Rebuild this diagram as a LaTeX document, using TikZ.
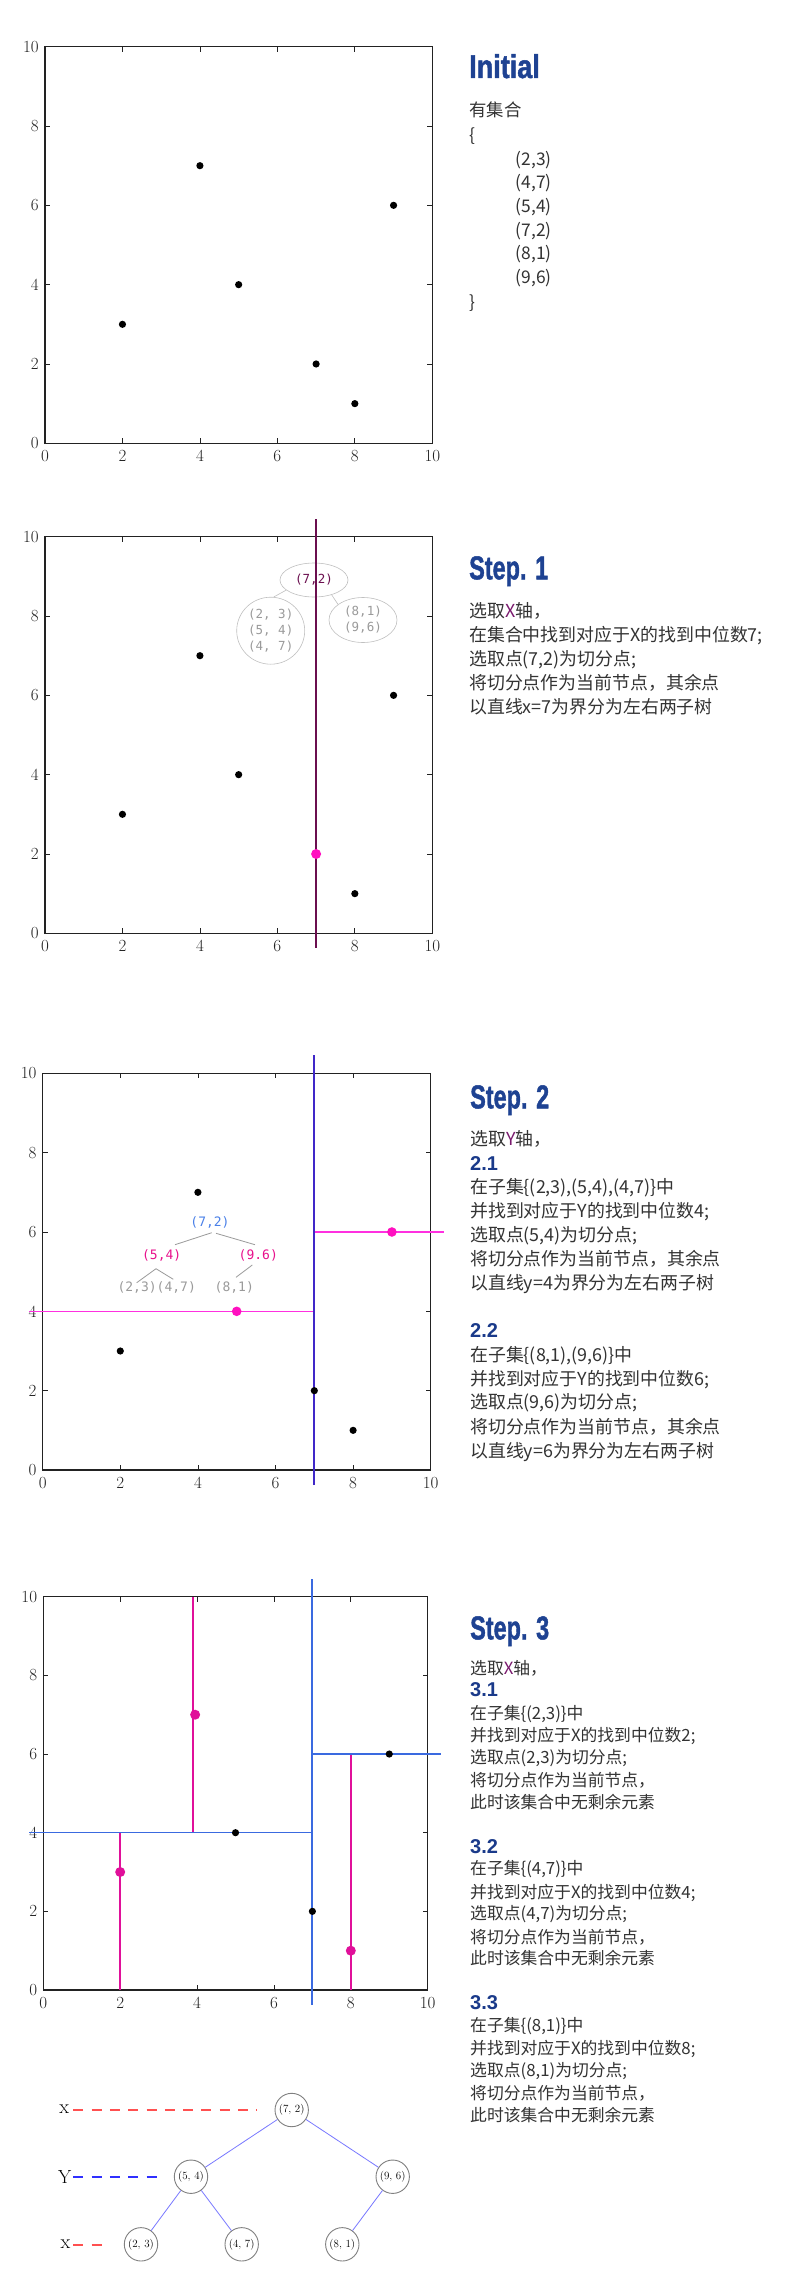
\documentclass[tikz,border=0pt]{standalone}
\usepackage{fontspec}
\usetikzlibrary{shapes.geometric}
\newfontfamily\cjk{Noto Sans CJK SC}
\newfontfamily\monof{DejaVu Sans Mono}
\newfontfamily\heavyf[FakeBold=1.5]{Liberation Sans Bold}
\newfontfamily\subf{Liberation Sans Bold}
\definecolor{titleblue}{HTML}{1E4292}
\definecolor{subblue}{HTML}{1A3A8A}
\definecolor{bodygray}{HTML}{333333}
\definecolor{axpurple}{HTML}{7A1A6E}
\definecolor{cutpurple}{HTML}{6B0F4F}
\definecolor{hotpink}{HTML}{FF10C0}
\definecolor{magline}{HTML}{FF30E0}
\definecolor{vblue}{HTML}{4028C8}
\definecolor{pblue}{HTML}{3A6AE0}
\definecolor{ppink}{HTML}{E0109A}
\definecolor{lblblue}{HTML}{4A80E8}
\definecolor{lblpink}{HTML}{E8108C}
\definecolor{softgray}{HTML}{9A9A9A}
\definecolor{ellgray}{HTML}{C0C0C0}
\definecolor{treegray}{HTML}{808080}
\definecolor{edgeblue}{HTML}{7878FF}
\definecolor{dashred}{HTML}{FF5050}
\definecolor{dashblue}{HTML}{3030FF}
\definecolor{framec}{HTML}{222222}
\newcommand{\kdframe}{%
  \draw[frame] (0,0) rectangle (10,10);
  \foreach \t in {2,4,6,8}{
    \draw[tickm] (\t,0) -- ++(0pt,5pt);
    \draw[tickm] (\t,10) -- ++(0pt,-5pt);
    \draw[tickm] (0,\t) -- ++(5pt,0pt);
    \draw[tickm] (10,\t) -- ++(-5pt,0pt);
  }
  \foreach \t in {0,2,4,6,8,10}{
    \node[ticklab, anchor=north] (xl\t) at ([yshift=-7pt]\t,0) {\t};
    \node[ticklab, anchor=east] (yl\t) at ([xshift=-6pt]0,\t) {\t};
  }
}
\begin{document}
\begin{tikzpicture}[x=1pt,y=-1pt,
  frame/.style={draw=framec, line width=1.3pt},
  tickm/.style={draw=framec, line width=0.8pt},
  ticklab/.style={inner sep=0pt, font=\fontsize{17}{18}\selectfont, text=framec},
  blackdot/.style={fill=black},
  body0/.style={font=\cjk\fontsize{17.4}{20}\selectfont, text=bodygray, anchor=base west, inner sep=0pt},
  body/.style={font=\cjk\fontsize{17.9}{20}\selectfont, text=bodygray, anchor=base west, inner sep=0pt},
  body3/.style={font=\cjk\fontsize{16.8}{20}\selectfont, text=bodygray, anchor=base west, inner sep=0pt},
  subhead/.style={font=\subf\fontsize{20}{22}\selectfont, text=subblue, anchor=base west, inner sep=0pt},
  titlehead/.style={font=\heavyf\fontsize{33}{36}\selectfont, text=titleblue, anchor=base west, inner sep=0pt},
  ell/.style={ellipse, draw=ellgray, line width=0.6pt, inner sep=0pt, font=\monof\fontsize{12.5}{16}\selectfont, align=center},
  ellline/.style={draw=ellgray, line width=0.6pt},
  monolab/.style={inner sep=0pt, font=\monof\fontsize{13}{15}\selectfont},
  treeline/.style={draw=softgray, line width=0.8pt},
  tnode/.style={circle, draw=treegray, line width=0.9pt, minimum size=33.4pt, inner sep=0pt, fill=white, font=\fontsize{11}{12}\selectfont},
  tedge/.style={draw=edgeblue, line width=0.8pt},
  axlab/.style={inner sep=1.5pt, font=\fontsize{20}{22}\selectfont},
  reddash/.style={draw=dashred, line width=1.6pt, dash pattern=on 10pt off 8.3pt},
  bluedash/.style={draw=dashblue, line width=1.6pt, dash pattern=on 10pt off 8.3pt}
]
\fill[white] (0,0) rectangle (800,2293);
\path[use as bounding box] (0,0) rectangle (800,2293);

% ---------- Plot 1 ----------
\begin{scope}[shift={(45,443.3)}, x=38.73pt, y=39.66pt]
  \kdframe
  \foreach \p in {(2,3),(4,7),(5,4),(7,2),(8,1),(9,6)} \fill[blackdot] \p circle (3.6pt);
\end{scope}

% ---------- Plot 2 ----------
\begin{scope}[shift={(45,933.3)}, x=38.73pt, y=39.66pt]
  \kdframe
  \foreach \p in {(2,3),(4,7),(5,4),(8,1),(9,6)} \fill[blackdot] \p circle (3.6pt);
\end{scope}
\node[ell, minimum width=68pt, minimum height=34pt, text=cutpurple] (e72) at (314,580) {(7,2)};
\node[ell, minimum width=68pt, minimum height=67pt, text=softgray] (eL) at (270.7,630.7) {(2, 3)\\(5, 4)\\(4, 7)};
\node[ell, minimum width=68pt, minimum height=45pt, text=softgray] (eR) at (363,620) {(8,1)\\(9,6)};
\draw[ellline] (e72.200) -- (eL.85);
\draw[ellline] (e72.-40) -- (eR.148);
\begin{scope}[shift={(45,933.3)}, x=38.73pt, y=39.66pt]
  \draw[cutpurple, line width=2pt] (7,-0.37) -- (7,10.45);
  \fill[hotpink] (7,2) circle (5pt);
\end{scope}

% ---------- Plot 3 ----------
\begin{scope}[shift={(42.7,1470)}, x=38.8pt, y=39.67pt]
  \kdframe
  \draw[magline, line width=1.5pt] (-0.35,4) -- (7,4);
  \draw[magline, line width=1.5pt] (7,6) -- (10.34,6);
  \draw[vblue, line width=2pt] (7,-0.38) -- (7,10.46);
  \foreach \p in {(2,3),(4,7),(7,2),(8,1)} \fill[blackdot] \p circle (3.6pt);
  \fill[hotpink] (5,4) circle (4.8pt);
  \fill[hotpink] (9,6) circle (4.8pt);
\end{scope}
\node[monolab, text=lblblue] (t72) at (210,1222.7) {(7,2)};
\node[monolab, text=lblpink] (t54) at (161.7,1255) {(5,4)};
\node[monolab, text=lblpink] (t96) at (258.3,1255) {(9.6)};
\node[monolab, text=softgray] (tg) at (156.7,1287.3) {(2,3)(4,7)};
\node[monolab, text=softgray] (t81) at (234.3,1287) {(8,1)};
\draw[treeline] ([xshift=1.7pt,yshift=-10pt]t72.center) -- ([xshift=13.3pt,yshift=10.3pt]t54.center);
\draw[treeline] ([xshift=6pt,yshift=-10.6pt]t72.center) -- ([xshift=-3.3pt,yshift=10.3pt]t96.center);
\draw[treeline] ([xshift=-5.7pt,yshift=-13.7pt]t54.center) -- ([xshift=-20pt,yshift=4.6pt]tg.center);
\draw[treeline] ([xshift=-5.7pt,yshift=-13.7pt]t54.center) -- ([xshift=16.6pt,yshift=8pt]tg.center);
\draw[treeline] ([xshift=-6pt,yshift=-10pt]t96.center) -- ([xshift=1.7pt,yshift=9.7pt]t81.center);

% ---------- Plot 4 ----------
\begin{scope}[shift={(43.3,1990)}, x=38.44pt, y=39.33pt]
  \kdframe
  \draw[ppink, line width=1.5pt] (2,0) -- (2,4);
  \draw[ppink, line width=1.5pt] (3.9,4) -- (3.9,10);
  \draw[ppink, line width=1.5pt] (8,0) -- (8,6);
  \draw[pblue, line width=1.5pt] (-0.36,4) -- (7,4);
  \draw[pblue, line width=1.5pt] (7,6) -- (10.35,6);
  \draw[pblue, line width=2pt] (7,-0.38) -- (7,10.44);
  \foreach \p in {(5,4),(7,2),(9,6)} \fill[blackdot] \p circle (3.6pt);
  \fill[ppink] (2,3) circle (5pt);
  \fill[ppink] (3.95,7) circle (5pt);
  \fill[ppink] (8,1) circle (5pt);
\end{scope}

% ---------- Bottom tree ----------
\node[tnode] (r72) at (291.7,2110) {(7, 2)};
\node[tnode] (r54) at (191,2176.7) {(5, 4)};
\node[tnode] (r96) at (392.7,2176.7) {(9, 6)};
\node[tnode] (r23) at (141,2244.3) {(2, 3)};
\node[tnode] (r47) at (241.7,2244.3) {(4, 7)};
\node[tnode] (r81) at (342.3,2244.3) {(8, 1)};
\draw[tedge] (r72) -- (r54);
\draw[tedge] (r72) -- (r96);
\draw[tedge] (r54) -- (r23);
\draw[tedge] (r54) -- (r47);
\draw[tedge] (r96) -- (r81);
\node[axlab] (lx1) at (64.3,2109) {x};
\node[axlab, font=\fontsize{19}{21}\selectfont] (lyy) at (64.8,2176.7) {Y};
\node[axlab] (lx2) at (65.5,2244) {x};
\coordinate (dx1) at (257.3,2110);
\coordinate (dyy) at (156.7,2176.7);
\coordinate (dx2) at (106,2245);
\draw[reddash] (73.3,2110) -- (dx1);
\draw[bluedash] (73.3,2176.7) -- (dyy);
\draw[reddash] (73.3,2245) -- (dx2);

% ---------- Initial text ----------
\node[titlehead] (hI) at (469,78) {\scalebox{0.82}[1]{Initial}};
\node[body0] (i1) at (469,117) {有集合};
\node[body0] (i2) at (469,142) {\{};
\node[body0] (i3) at (515.7,165.5) {(2,3)};
\node[body0] (i4) at (515.7,189) {(4,7)};
\node[body0] (i5) at (515.7,212.5) {(5,4)};
\node[body0] (i6) at (515.7,236) {(7,2)};
\node[body0] (i7) at (515.7,259.5) {(8,1)};
\node[body0] (i8) at (515.7,283) {(9,6)};
\node[body0] (i9) at (469,308.6) {\}};

% ---------- Step 1 text ----------
\node[titlehead] (h1) at (469,579.3) {\scalebox{0.71}[1]{Step. 1}};
\node[body] (s1a) at (469,617) {选取{\color{axpurple}X}轴，};
\node[body] (s1b) at (469,641) {在集合中找到对应于X的找到中位数7;};
\node[body] (s1c) at (469,665) {选取点(7,2)为切分点;};
\node[body] (s1d) at (469,689) {将切分点作为当前节点，其余点};
\node[body] (s1e) at (469,713) {以直线x=7为界分为左右两子树};

% ---------- Step 2 text ----------
\node[titlehead] (h2) at (470,1108.3) {\scalebox{0.71}[1]{Step. 2}};
\node[body] (s2a) at (470,1145) {选取{\color{axpurple}Y}轴，};
\node[subhead] (s2b) at (470,1170) {2.1};
\node[body] (s2c) at (470,1193.5) {在子集\{(2,3),(5,4),(4,7)\}中};
\node[body] (s2d) at (470,1217) {并找到对应于Y的找到中位数4;};
\node[body] (s2e) at (470,1241) {选取点(5,4)为切分点;};
\node[body] (s2f) at (470,1265) {将切分点作为当前节点，其余点};
\node[body] (s2g) at (470,1289) {以直线y=4为界分为左右两子树};
\node[subhead] (s2h) at (470,1337) {2.2};
\node[body] (s2i) at (470,1361) {在子集\{(8,1),(9,6)\}中};
\node[body] (s2j) at (470,1385) {并找到对应于Y的找到中位数6;};
\node[body] (s2k) at (470,1408.5) {选取点(9,6)为切分点;};
\node[body] (s2l) at (470,1433) {将切分点作为当前节点，其余点};
\node[body] (s2m) at (470,1457) {以直线y=6为界分为左右两子树};

% ---------- Step 3 text ----------
\node[titlehead] (h3) at (470,1639.3) {\scalebox{0.71}[1]{Step. 3}};
\node[body3] (s3a) at (470,1674.7) {选取{\color{axpurple}X}轴，};
\node[subhead] (s3b) at (470,1696.7) {3.1};
\node[body3] (s3c) at (470,1719) {在子集\{(2,3)\}中};
\node[body3] (s3d) at (470,1741.4) {并找到对应于X的找到中位数2;};
\node[body3] (s3e) at (470,1763) {选取点(2,3)为切分点;};
\node[body3] (s3f) at (470,1786.4) {将切分点作为当前节点，};
\node[body3] (s3g) at (470,1808) {此时该集合中无剩余元素};
\node[subhead] (s3h) at (470,1853.3) {3.2};
\node[body3] (s3i) at (470,1874.7) {在子集\{(4,7)\}中};
\node[body3] (s3j) at (470,1898) {并找到对应于X的找到中位数4;};
\node[body3] (s3k) at (470,1919.7) {选取点(4,7)为切分点;};
\node[body3] (s3l) at (470,1943) {将切分点作为当前节点，};
\node[body3] (s3m) at (470,1964.7) {此时该集合中无剩余元素};
\node[subhead] (s3n) at (470,2009.3) {3.3};
\node[body3] (s3o) at (470,2031.4) {在子集\{(8,1)\}中};
\node[body3] (s3p) at (470,2054) {并找到对应于X的找到中位数8;};
\node[body3] (s3q) at (470,2076.4) {选取点(8,1)为切分点;};
\node[body3] (s3r) at (470,2099) {将切分点作为当前节点，};
\node[body3] (s3s) at (470,2121.4) {此时该集合中无剩余元素};
\end{tikzpicture}
\end{document}
